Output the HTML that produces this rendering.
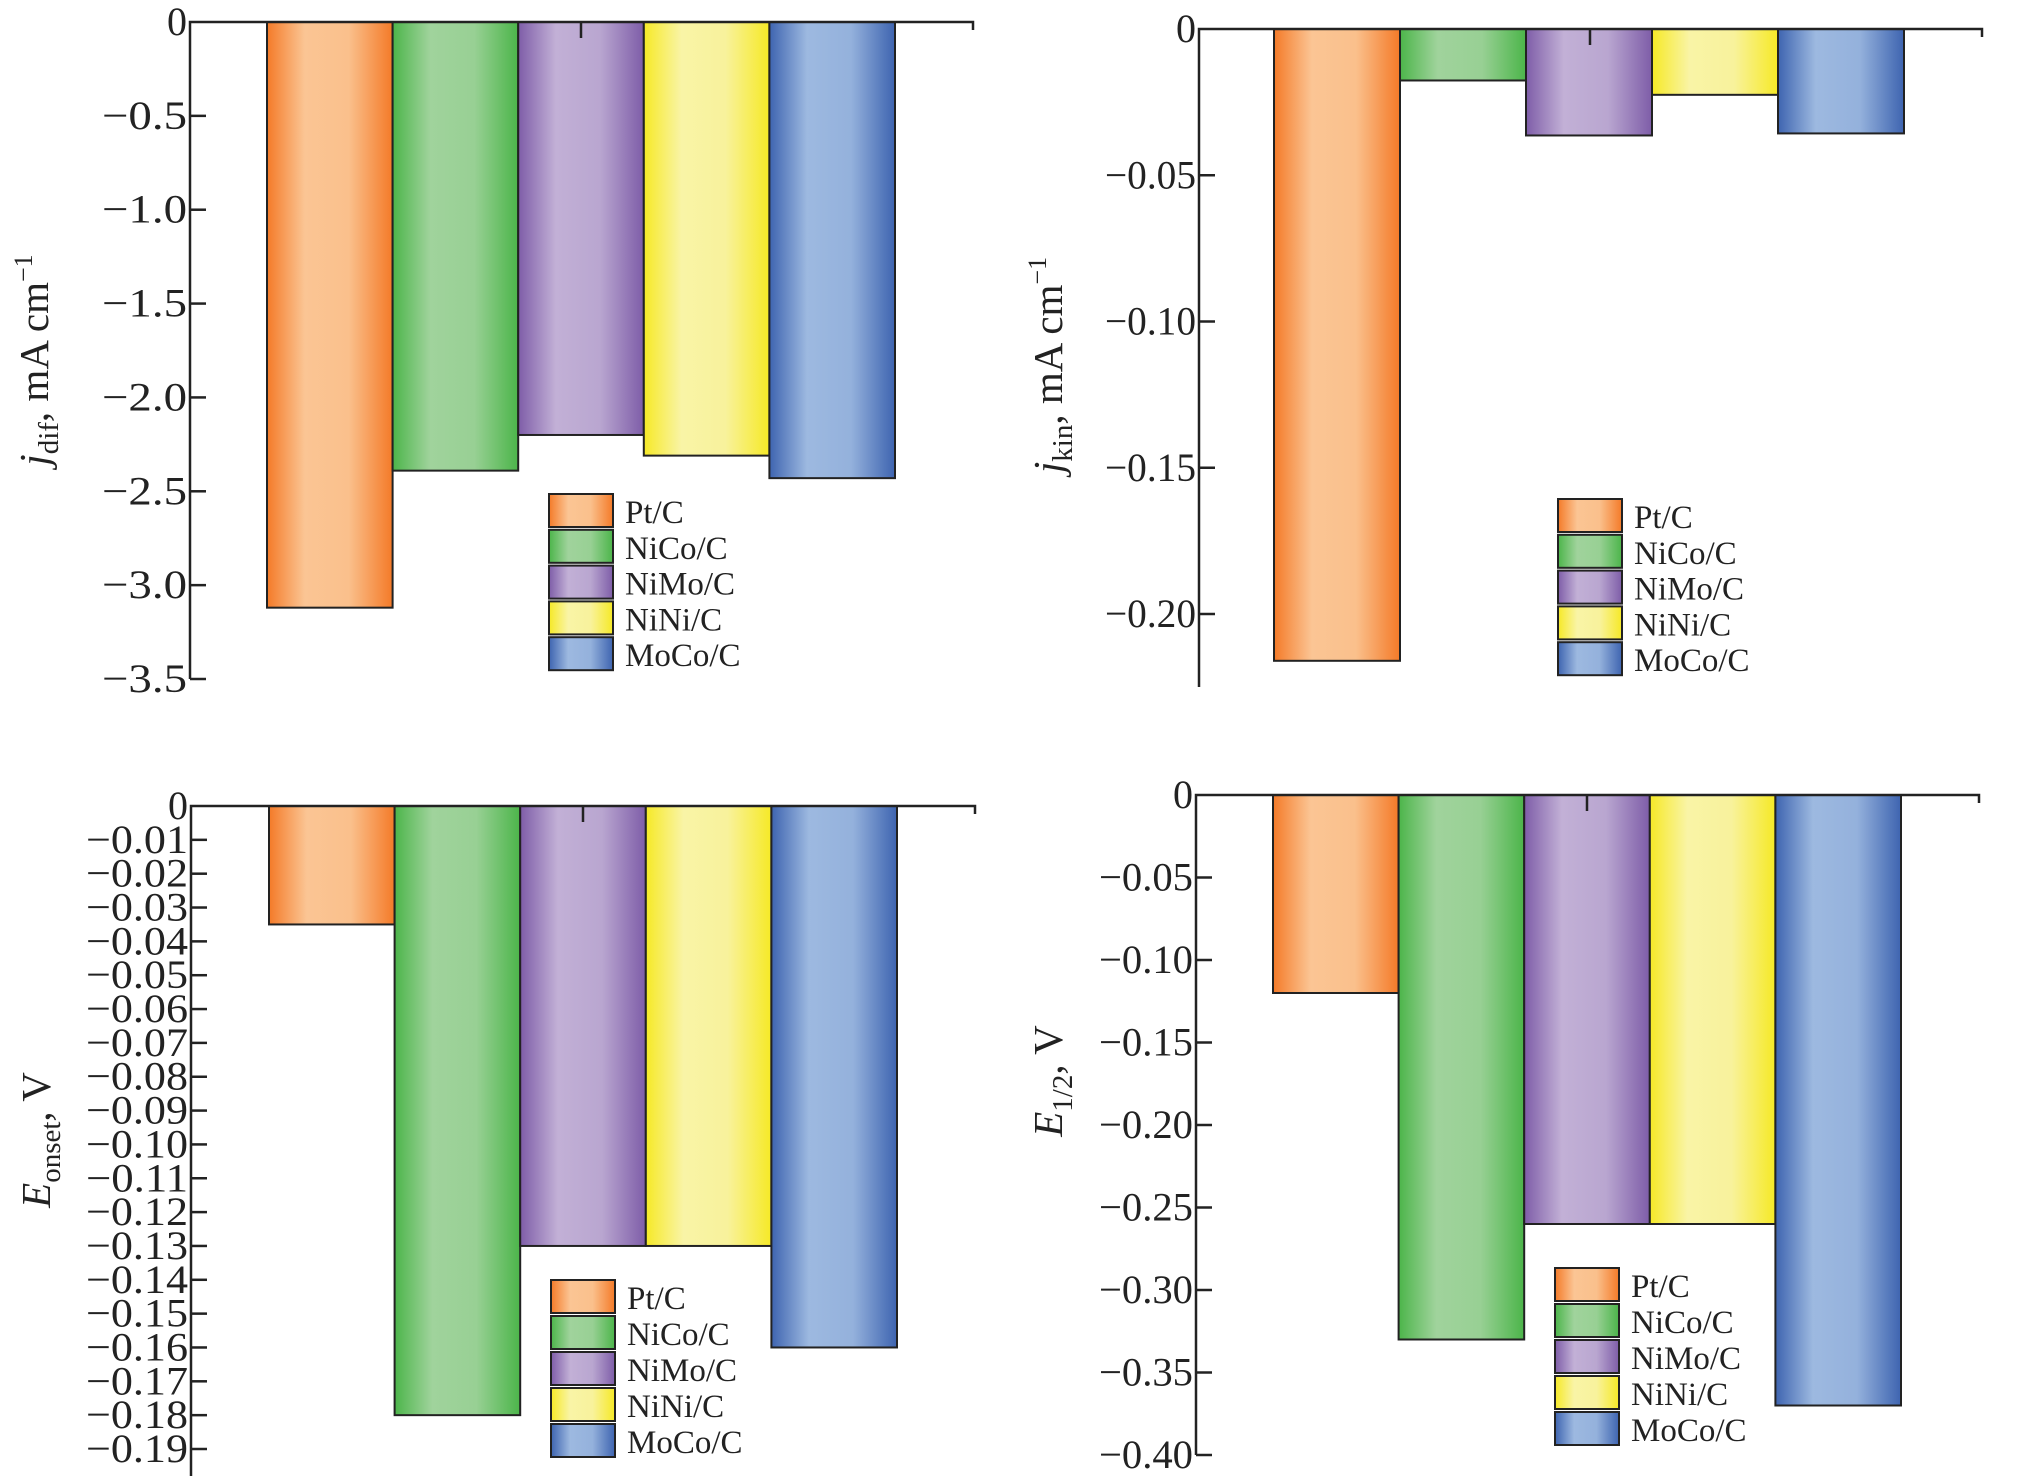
<!DOCTYPE html>
<html><head><meta charset="utf-8"><style>
html,body{margin:0;padding:0;background:#fff;}
svg{display:block;font-family:"Liberation Serif",serif;}
</style></head><body>
<svg id="fig" width="2039" height="1476" viewBox="0 0 2039 1476" xmlns="http://www.w3.org/2000/svg">
<defs>
<linearGradient id="g0" x1="0" x2="1" y1="0" y2="0"><stop offset="0" stop-color="#f47a28"/><stop offset="0.3" stop-color="#fbc594"/><stop offset="0.65" stop-color="#fac08c"/><stop offset="1" stop-color="#f47a28"/></linearGradient>
<linearGradient id="g1" x1="0" x2="1" y1="0" y2="0"><stop offset="0" stop-color="#4cb54a"/><stop offset="0.3" stop-color="#a0d39c"/><stop offset="0.65" stop-color="#98d094"/><stop offset="1" stop-color="#4cb54a"/></linearGradient>
<linearGradient id="g2" x1="0" x2="1" y1="0" y2="0"><stop offset="0" stop-color="#7e5da8"/><stop offset="0.3" stop-color="#c2b0d6"/><stop offset="0.65" stop-color="#b9a6d0"/><stop offset="1" stop-color="#7e5da8"/></linearGradient>
<linearGradient id="g3" x1="0" x2="1" y1="0" y2="0"><stop offset="0" stop-color="#f6e926"/><stop offset="0.3" stop-color="#f9f4a6"/><stop offset="0.65" stop-color="#f8f29c"/><stop offset="1" stop-color="#f6e926"/></linearGradient>
<linearGradient id="g4" x1="0" x2="1" y1="0" y2="0"><stop offset="0" stop-color="#3e64b0"/><stop offset="0.3" stop-color="#9db9e0"/><stop offset="0.65" stop-color="#94b1dc"/><stop offset="1" stop-color="#3e64b0"/></linearGradient>
</defs>
</svg>
<script>
const categories = ["Pt/C","NiCo/C","NiMo/C","NiNi/C","MoCo/C"];
const jdifValues = [-3.12,-2.39,-2.20,-2.31,-2.43];
const jdifTicks = ["0","−0.5","−1.0","−1.5","−2.0","−2.5","−3.0","−3.5"];
const jdifTickValues = [0,-0.5,-1.0,-1.5,-2.0,-2.5,-3.0,-3.5];
const jkinValues = [-0.216,-0.0176,-0.0364,-0.0225,-0.0357];
const jkinTicks = ["0","−0.05","−0.10","−0.15","−0.20"];
const jkinTickValues = [0,-0.05,-0.10,-0.15,-0.20];
const eonsetValues = [-0.035,-0.18,-0.13,-0.13,-0.16];
const eonsetTicks = ["0","−0.01","−0.02","−0.03","−0.04","−0.05","−0.06","−0.07","−0.08","−0.09","−0.10","−0.11","−0.12","−0.13","−0.14","−0.15","−0.16","−0.17","−0.18","−0.19"];
const eonsetTickValues = [0,-0.01,-0.02,-0.03,-0.04,-0.05,-0.06,-0.07,-0.08,-0.09,-0.10,-0.11,-0.12,-0.13,-0.14,-0.15,-0.16,-0.17,-0.18,-0.19];
const ehalfValues = [-0.12,-0.33,-0.26,-0.26,-0.37];
const ehalfTicks = ["0","−0.05","−0.10","−0.15","−0.20","−0.25","−0.30","−0.35","−0.40"];
const ehalfTickValues = [0,-0.05,-0.10,-0.15,-0.20,-0.25,-0.30,-0.35,-0.40];

const svg = document.getElementById('fig');
const NS = 'http://www.w3.org/2000/svg';
function mk(tag, attrs, parent){const e=document.createElementNS(NS,tag);for(const k in attrs)e.setAttribute(k,attrs[k]);(parent||svg).appendChild(e);return e;}

function panel(p){
  const g = mk('g',{});
  
  
  const y = v => p.y0 + (v/p.vmin)*(p.ymin - p.y0);
  p.values.forEach((v,i)=>{
    const r = mk('rect',{x:p.bx0+i*p.bw,y:p.y0,width:p.bw,height:Math.max(0,y(v)-p.y0),fill:'url(#g'+i+')',stroke:'#222','stroke-width':2},g);
    
    
  });
  const ax = mk('path',{d:`M${p.ax} ${p.axisBottom} L${p.ax} ${p.y0} L${p.axEnd} ${p.y0} L${p.axEnd} ${p.y0+8} M${p.mid} ${p.y0} L${p.mid} ${p.y0+16}`,stroke:'#222','stroke-width':2.5,fill:'none'},g);
  
  
  p.tickValues.forEach((tv,i)=>{
    const ty = y(tv);
    if(i>0) mk('line',{x1:p.ax,x2:p.ax+16,y1:ty,y2:ty,stroke:'#222','stroke-width':2.5},g);
    const t = mk('text',{x:p.ax-3,y:ty+13,'text-anchor':'end','font-size':p.fs,fill:'#222'},g);
    if(p.tl && i>0) {t.setAttribute('textLength',p.tl);t.setAttribute('lengthAdjust','spacingAndGlyphs');}
    t.textContent = p.ticks[i];
    
    
  });
  const tt = mk('text',{transform:`translate(${p.tx},${p.ty}) rotate(-90)`,'text-anchor':'middle','font-size':41,fill:'#222'},g);
  tt.innerHTML = p.title;
  
  
  const lg = mk('g',{},g);
  
  
  categories.forEach((c,i)=>{
    const e = mk('g',{},lg);
    
    
    const ry = p.ly + i*p.lstep;
    mk('rect',{x:p.lx,y:ry,width:64,height:33,fill:'url(#g'+i+')',stroke:'#222','stroke-width':2},e);
    const t = mk('text',{x:p.lx+76,y:ry+29,'font-size':33,fill:'#222'},e);
    t.textContent = c;
  });
}

panel({name:'jdif-panel',values:jdifValues,ticks:jdifTicks,tickValues:jdifTickValues,vmin:-3.5,y0:22,ymin:679,ax:190,axEnd:973,mid:581,axisBottom:679,bx0:267,bw:125.6,fs:40,tl:85,
  tx:48,ty:360,title:'<tspan font-style="italic">j</tspan><tspan font-size="29" dy="10">dif</tspan><tspan dy="-10">, mA cm</tspan><tspan font-size="26" dy="-16">−1</tspan>',
  lx:549,ly:494,lstep:35.8});
panel({name:'jkin-panel',values:jkinValues,ticks:jkinTicks,tickValues:jkinTickValues,vmin:-0.20,y0:29,ymin:614,ax:1199,axEnd:1982,mid:1590,axisBottom:687,bx0:1274,bw:126,fs:40,tl:91,
  tx:1062,ty:365,title:'<tspan font-style="italic">j</tspan><tspan font-size="29" dy="10">kin</tspan><tspan dy="-10">, mA cm</tspan><tspan font-size="26" dy="-16">−1</tspan>',
  lx:1558,ly:499,lstep:35.8});
panel({name:'eonset-panel',values:eonsetValues,ticks:eonsetTicks,tickValues:eonsetTickValues,vmin:-0.19,y0:806,ymin:1449,ax:191,axEnd:975,mid:583,axisBottom:1476,bx0:269,bw:125.6,fs:40,tl:102,
  tx:50,ty:1140,title:'<tspan font-style="italic">E</tspan><tspan font-size="29" dy="10">onset</tspan><tspan dy="-10">, V</tspan>',
  lx:551,ly:1280,lstep:36});
panel({name:'ehalf-panel',values:ehalfValues,ticks:ehalfTicks,tickValues:ehalfTickValues,vmin:-0.40,y0:795,ymin:1455,ax:1196,axEnd:1979,mid:1587,axisBottom:1455,bx0:1273,bw:125.6,fs:40,tl:94,
  tx:1062,ty:1081,title:'<tspan font-style="italic">E</tspan><tspan font-size="29" dy="10">1/2</tspan><tspan dy="-10">, V</tspan>',
  lx:1555,ly:1268,lstep:36});
</script>
</body></html>
